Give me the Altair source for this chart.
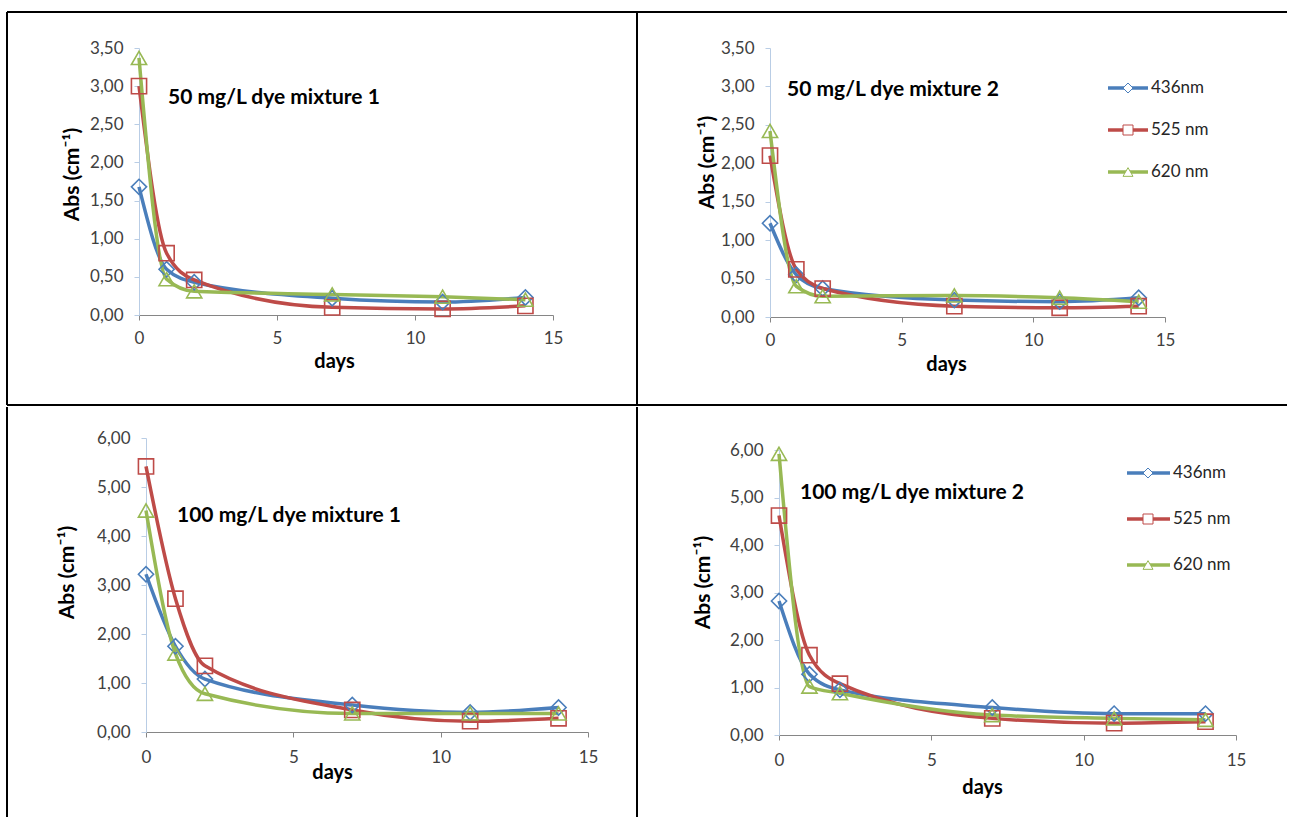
import altair as alt
import pandas as pd

# ---------------- data ----------------
days = [0, 1, 2, 7, 11, 14]
series = ["436nm", "525 nm", "620 nm"]
colors = ["#4A7EBB", "#BE4B48", "#98B954"]
shapes = ["diamond", "square", "triangle-up"]

titles = ["50 mg/L dye mixture 1", "50 mg/L dye mixture 2",
          "100 mg/L dye mixture 1", "100 mg/L dye mixture 2"]

m50_1_436 = [1.68, 0.60, 0.43, 0.22, 0.17, 0.23]
m50_1_525 = [3.00, 0.81, 0.46, 0.10, 0.08, 0.12]
m50_1_620 = [3.37, 0.47, 0.31, 0.27, 0.24, 0.20]

m50_2_436 = [1.22, 0.55, 0.37, 0.22, 0.20, 0.25]
m50_2_525 = [2.10, 0.62, 0.37, 0.14, 0.12, 0.14]
m50_2_620 = [2.42, 0.40, 0.27, 0.28, 0.25, 0.20]

m100_1_436 = [3.22, 1.75, 1.08, 0.55, 0.40, 0.50]
m100_1_525 = [5.42, 2.72, 1.35, 0.45, 0.22, 0.28]
m100_1_620 = [4.52, 1.60, 0.78, 0.38, 0.38, 0.38]

m100_2_436 = [2.82, 1.28, 0.95, 0.58, 0.45, 0.45]
m100_2_525 = [4.62, 1.68, 1.08, 0.35, 0.25, 0.28]
m100_2_620 = [5.92, 1.02, 0.88, 0.42, 0.35, 0.32]

yticks_50 = [0, 0.5, 1, 1.5, 2, 2.5, 3, 3.5]
yticks_100 = [0, 1, 2, 3, 4, 5, 6]
xticks = [0, 5, 10, 15]

FONT = "Lato"

# layout of each table cell (pixels inside the cell)
layouts = [
    dict(w=630, h=393, x0=132, x1=546, yb=303, yt=36, ymax=3.5, yv=yticks_50,
         xtx=327, xty=46, ytx=-67, yty=162, ax=161, ay=86, lpad=10,
         legend=None, borders=["top", "left", "right", "bottom"]),
    dict(w=650, h=393, x0=133, x1=528, yb=305, yt=36, ymax=3.5, yv=yticks_50,
         xtx=309, xty=47, ytx=-63, yty=150, ax=150, ay=78, lpad=10,
         legend=dict(l0=471, l1=511, lm=491, lt=514, rows=[76, 118, 160]),
         borders=["top", "bottom"]),
    dict(w=630, h=410, x0=139, x1=581, yb=326, yt=32, ymax=6, yv=yticks_100,
         xtx=325, xty=40, ytx=-79, yty=166, ax=170, ay=110, lpad=12,
         legend=None, borders=["left", "right"]),
    dict(w=650, h=410, x0=142, x1=599, yb=329, yt=44, ymax=6, yv=yticks_100,
         xtx=345, xty=52, ytx=-76, yty=176, ax=163, ay=87, lpad=12,
         legend=dict(l0=490, l1=533, lm=511, lt=536, rows=[67, 113, 159]),
         borders=[]),
]
# the second row starts one pixel lower than the table line; shift it up
for L in layouts[2:]:
    for k in ("yb", "yt", "yty", "ay"):
        L[k] -= 1
    if L["legend"] is not None:
        L["legend"]["rows"] = [r - 1 for r in L["legend"]["rows"]]

values = [
    [m50_1_436, m50_1_525, m50_1_620],
    [m50_2_436, m50_2_525, m50_2_620],
    [m100_1_436, m100_1_525, m100_1_620],
    [m100_2_436, m100_2_525, m100_2_620],
]

color_scale = alt.Scale(domain=series, range=colors)
shape_scale = alt.Scale(domain=series, range=shapes)
size_scale = alt.Scale(domain=series, range=[230, 230, 270])


def panel(title, vals, L):
    rows = []
    for s, v in zip(series, vals):
        for d, a in zip(days, v):
            rows.append({"day": d, "abs": a, "series": s})
    df = pd.DataFrame(rows)

    x = alt.X("day:Q",
              scale=alt.Scale(domain=[0, 15], range=[L["x0"], L["x1"]], nice=False, zero=False),
              axis=alt.Axis(values=xticks, offset=L["yb"] - L["h"], grid=False, labelFlush=False,
                            domainColor="#868686", tickColor="#868686", tickSize=5,
                            labelFont=FONT, labelFontSize=17, labelColor="#404040",
                            labelPadding=L["lpad"], title="days", titleFont=FONT,
                            titleFontSize=20, titleFontWeight="bold", titleColor="#000000",
                            titleX=L["xtx"], titleY=L["xty"], titleAlign="center",
                            titleBaseline="middle"))
    y = alt.Y("abs:Q",
              scale=alt.Scale(domain=[0, L["ymax"]], range=[L["yb"], L["yt"]], nice=False),
              axis=alt.Axis(values=L["yv"], offset=-L["x0"], grid=False, labelFlush=False,
                            labelExpr="replace(format(datum.value, '.2f'), '.', ',')",
                            domainColor="#B9CDE5", tickColor="#B9CDE5", tickSize=5,
                            labelFont=FONT, labelFontSize=17, labelColor="#404040",
                            labelPadding=11, title="Abs (cm\u207b\u00b9)", titleFont=FONT,
                            titleFontSize=21, titleFontWeight="bold", titleColor="#000000",
                            titleX=L["ytx"], titleY=L["yty"], titleAlign="center",
                            titleBaseline="middle", titleAngle=270))
    color = alt.Color("series:N", scale=color_scale, legend=None)

    base = alt.Chart(df)
    lines = base.mark_line(interpolate="monotone", strokeWidth=3.5).encode(x=x, y=y, color=color)
    pts = base.mark_point(filled=False, strokeWidth=1.6, opacity=1).encode(
        x=x, y=y, color=color,
        shape=alt.Shape("series:N", scale=shape_scale, legend=None),
        size=alt.Size("series:N", scale=size_scale, legend=None))

    one = pd.DataFrame({"t": [title]})
    ann = alt.Chart(one).mark_text(align="left", baseline="middle", font=FONT,
                                   fontSize=21, fontWeight="bold", color="#000000").encode(
        x=alt.value(L["ax"]), y=alt.value(L["ay"]), text="t:N")

    layers = [lines, pts, ann]
    for b in L["borders"]:
        r = alt.Chart(one).mark_rule(color="#000000", strokeWidth=2)
        if b == "top":
            layers.append(r.encode(x=alt.value(0), x2=alt.value(L["w"]), y=alt.value(0)))
        elif b == "bottom":
            layers.append(r.encode(x=alt.value(0), x2=alt.value(L["w"]), y=alt.value(L["h"])))
        elif b == "left":
            layers.append(r.encode(x=alt.value(0), y=alt.value(0), y2=alt.value(L["h"])))
        elif b == "right":
            layers.append(r.encode(x=alt.value(L["w"]), y=alt.value(0), y2=alt.value(L["h"])))

    lg = L["legend"]
    if lg is not None:
        for s, ry in zip(series, lg["rows"]):
            sdf = pd.DataFrame({"series": [s]})
            lb = alt.Chart(sdf)
            layers.append(lb.mark_rule(strokeWidth=3.5).encode(
                x=alt.value(lg["l0"]), x2=alt.value(lg["l1"]), y=alt.value(ry), color=color))
            layers.append(lb.mark_point(filled=False, fill="white", fillOpacity=1,
                                        strokeWidth=1, size=100, opacity=1).encode(
                x=alt.value(lg["lm"]), y=alt.value(ry), color=color,
                shape=alt.Shape("series:N", scale=shape_scale, legend=None)))
            layers.append(lb.mark_text(align="left", baseline="middle", font=FONT, fontSize=17,
                                       color="#262626").encode(
                x=alt.value(lg["lt"]), y=alt.value(ry), text="series:N"))

    return alt.layer(*layers).properties(width=L["w"], height=L["h"])


panels = [panel(t, v, L) for t, v, L in zip(titles, values, layouts)]

top = alt.hconcat(panels[0], panels[1], spacing=0, bounds="flush")
bottom = alt.hconcat(panels[2], panels[3], spacing=0, bounds="flush")

chart = alt.vconcat(top, bottom, spacing=0).properties(
    padding={"left": 6, "top": 11, "right": 0, "bottom": 0},
    background="white",
).configure_view(stroke=None)

chart.save("out.html", embed_options={"renderer": "svg", "actions": False})
